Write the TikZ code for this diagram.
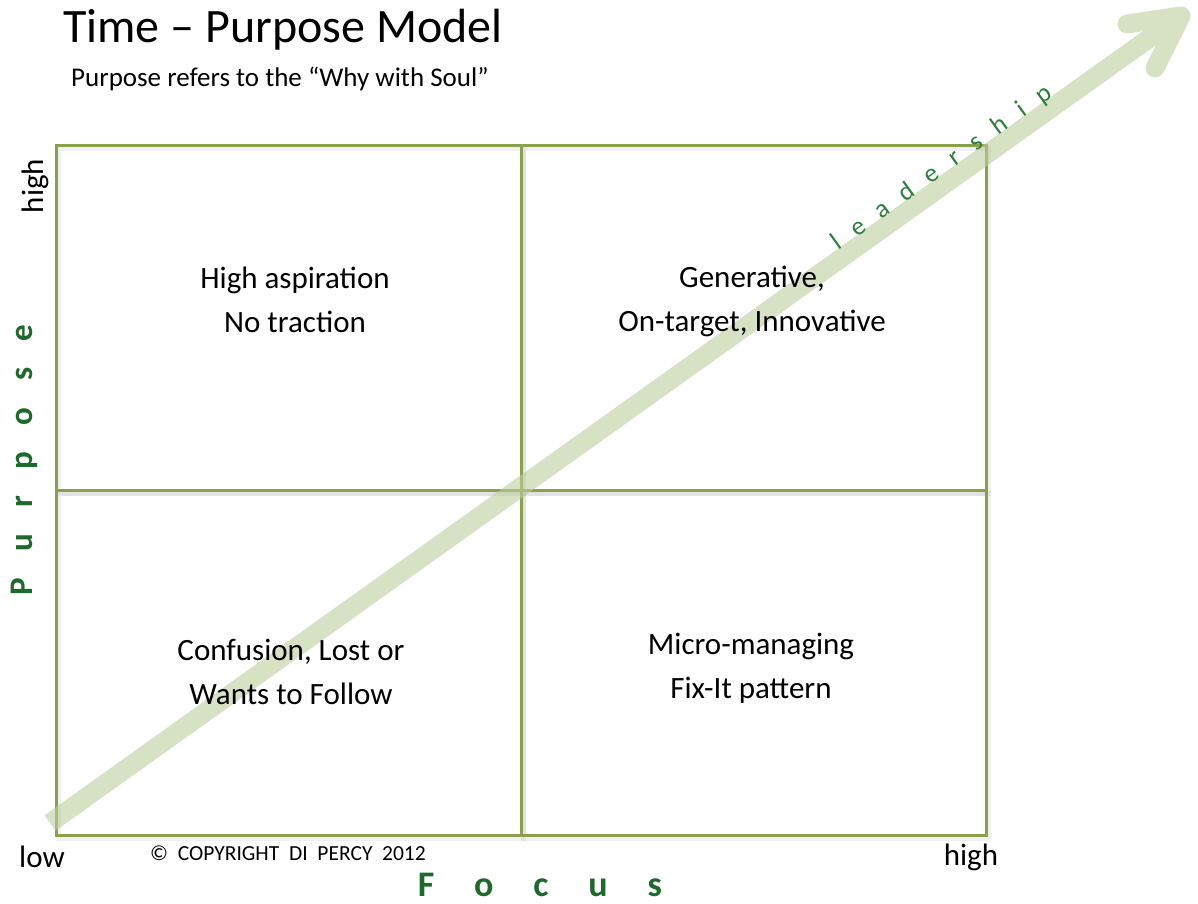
\documentclass[tikz,border=0pt]{standalone}
\usepackage{fontspec}
\setmainfont{Carlito}
\usetikzlibrary{positioning}
\definecolor{gridgreen}{RGB}{138,160,74}
\definecolor{labelgreen}{RGB}{30,106,44}
\definecolor{leadgreen}{RGB}{40,128,58}
\definecolor{arrowgreen}{RGB}{188,205,157}

\begin{document}
\begin{tikzpicture}[
  x=1pt, y=-1pt,
  cell/.style={minimum width=464pt, minimum height=344pt, inner sep=0pt},
  cellshadow/.style={draw=black, opacity=0.06, line width=5pt},
  celltext/.style={align=center, font=\fontsize{31}{44}\selectfont},
  axislabel/.style={inner sep=0pt, font=\fontsize{31}{36}\selectfont},
  axisname/.style={inner sep=0pt, text=labelgreen, font=\bfseries\fontsize{33}{36}\selectfont\addfontfeature{LetterSpace=80}},
  shaft/.style={arrowgreen, line width=19pt}
]
\useasboundingbox (0,0) rectangle (1198,903);

% the four quadrants
\node[cell] (tl) at (289,318) {};
\node[cell] (tr) at (754,318) {};
\node[cell] (bl) at (289,663) {};
\node[cell] (br) at (754,663) {};
\foreach \c in {tl,tr,bl,br}
  \draw[cellshadow] ([shift={(2,3)}]\c.north west) rectangle ([shift={(2,3)}]\c.south east);
\foreach \c in {tl,tr,bl,br}
  \draw[draw=gridgreen, line width=2.8pt] (\c.north west) rectangle (\c.south east);

% leadership arrow
\coordinate (tail) at (50,823);
\coordinate (shaftend) at (1172,22);
\coordinate (tip) at (1181,16);
\coordinate (barbL) at (1127,24);
\coordinate (barbR) at (1155,68);
\begin{scope}[transparency group, opacity=0.6]
  \draw[shaft] (tail) -- (shaftend);
  \draw[shaft, line cap=round, line join=round] (barbL) -- (tip) -- (barbR);
\end{scope}
\node[rotate=35.8, text=leadgreen, font=\fontsize{26}{30}\selectfont\addfontfeature{LetterSpace=66}] (lead) at (942,168) {leadership};

% titles
\node[anchor=west, inner sep=0pt, font=\fontsize{48}{56}\selectfont] (title) at (63,30) {Time -- Purpose Model};
\node[anchor=west, inner sep=0pt, font=\fontsize{27}{32}\selectfont] (subtitle) at (71,79) {Purpose refers to the “Why with Soul”};

% quadrant texts
\node[celltext] (tltext) at (295,300) {High aspiration\\No traction};
\node[celltext] (trtext) at (752,301) {Generative,\\On-target, Innovative};
\node[celltext] (bltext) at (291,672) {Confusion, Lost or\\Wants to Follow};
\node[celltext] (brtext) at (751,668) {Micro-managing\\Fix-It pattern};

% axes
\node[axislabel, rotate=90] (yhigh) at (35,186) {high};
\node[axislabel] (xlow) at (42,857) {low};
\node[axislabel] (xhigh) at (971,857) {high};
\node[axisname, rotate=90] (purpose) at (24,460) {Purpose};
\node[axisname, font=\bfseries\fontsize{36}{38}\selectfont\addfontfeature{LetterSpace=111}, anchor=base] (focus) at (540,896) {Focus};
\node[anchor=west, inner sep=0pt, font=\fontsize{21.5}{24}\selectfont] (copy) at (150,853) {© \ COPYRIGHT \ DI \ PERCY \ 2012};
\end{tikzpicture}
\end{document}
